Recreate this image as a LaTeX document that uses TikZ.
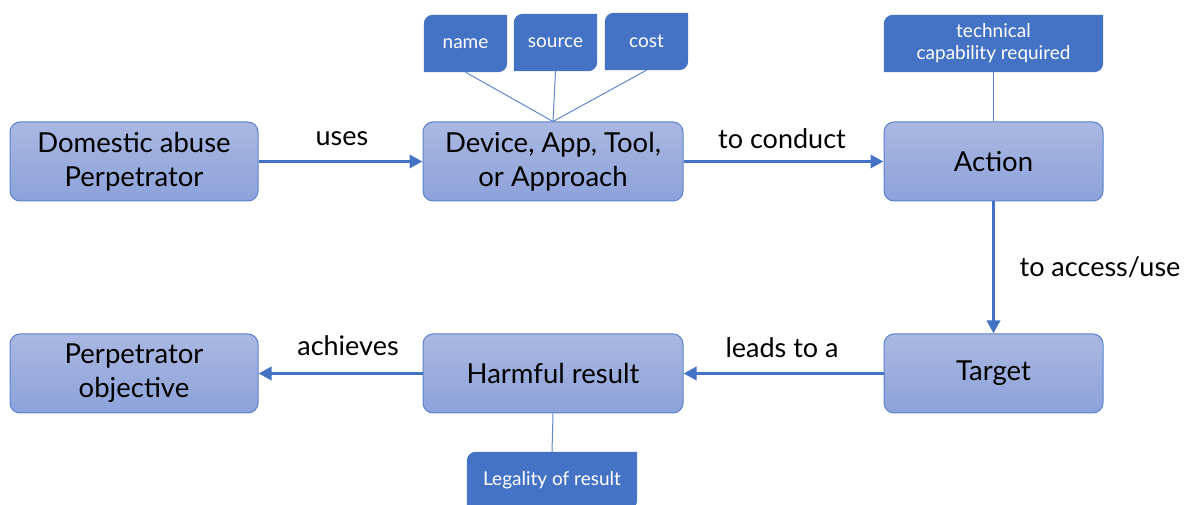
\documentclass[tikz,border=0pt]{standalone}
\usepackage{fontspec}
\setmainfont{Lato}
\usetikzlibrary{arrows.meta,backgrounds,calc}
\definecolor{tagblue}{HTML}{4472C4}
\definecolor{boxtop}{HTML}{AAB8E2}
\definecolor{boxbot}{HTML}{8CA2DA}
\definecolor{boxline}{HTML}{5A82CC}
\newcommand\drawtag[1]{\fill[tagblue] (#1.south west) -- ($(#1.north west)+(0,-9)$) arc[start angle=180,end angle=90,radius=9] -- (#1.north east) -- ($(#1.south east)+(0,9)$) arc[start angle=0,end angle=-90,radius=9] -- cycle;}
\begin{document}
\begin{tikzpicture}[x=1pt,y=1pt,
  mainbox/.style={rectangle, rounded corners=10pt, draw=boxline, line width=1pt, top color=boxtop, bottom color=boxbot, minimum height=79pt, align=center, font=\fontsize{27.5}{34}\selectfont, inner sep=0pt},
  tagbox/.style={minimum height=57pt, align=center, text=white, font=\fontsize{19}{22}\selectfont, inner sep=0pt},
  flow/.style={draw=tagblue, line width=3.5pt, -{Triangle[length=13pt,width=13pt]}},
  link/.style={draw=tagblue!85, line width=1pt},
  lbl/.style={font=\fontsize{27}{30}\selectfont}]
\useasboundingbox (0,0) rectangle (1193,505);
\clip (0,0) rectangle (1193,505);
% main boxes
\node[mainbox, minimum width=248pt] (dom) at (134,343.5) {Domestic abuse\\Perpetrator};
\node[mainbox, minimum width=260pt] (dev) at (553,343.5) {Device, App, Tool,\\or Approach};
\node[mainbox, minimum width=219pt] (act) at (993.5,343.5) {Action};
\node[mainbox, minimum width=219pt] (tgt) at (993.5,131.5) {Target};
\node[mainbox, minimum width=260pt] (harm) at (553,131.5) {Harmful result};
\node[mainbox, minimum width=248pt] (obj) at (134,131.5) {Perpetrator\\objective};
% tags
\node[tagbox, minimum width=83pt] (tname) at (465.5,461.5) {name};
\node[tagbox, minimum width=83pt] (tsrc) at (555.5,462.5) {source};
\node[tagbox, minimum width=83pt] (tcost) at (646.5,463.5) {cost};
\node[tagbox, minimum width=219pt] (ttech) at (993.5,461.5) {technical\\capability required};
\node[tagbox, minimum width=170pt] (tleg) at (552,24.5) {Legality of result};
\begin{pgfonlayer}{background}
\drawtag{tname}\drawtag{tsrc}\drawtag{tcost}\drawtag{ttech}\drawtag{tleg}
\end{pgfonlayer}
% thin links
\draw[link] (tname.south) -- (dev.north);
\draw[link] (tsrc.south) -- (dev.north);
\draw[link] (tcost.south) -- (dev.north);
\draw[link] (ttech.south) -- (act.north);
\draw[link] (harm.south) -- (tleg.north);
% flow arrows
\draw[flow] (dom.east) -- (dev.west);
\draw[flow] (dev.east) -- (act.west);
\draw[flow] (act.south) -- (tgt.north);
\draw[flow] (tgt.west) -- (harm.east);
\draw[flow] (harm.west) -- (obj.east);
% labels
\node[lbl] (luses) at (342,366) {uses};
\node[lbl] (lcond) at (782,366) {to conduct};
\node[lbl] (lacc) at (1100,238) {to access/use};
\node[lbl] (llead) at (782,157) {leads to a};
\node[lbl] (lach) at (348,159) {achieves};
\end{tikzpicture}
\end{document}
